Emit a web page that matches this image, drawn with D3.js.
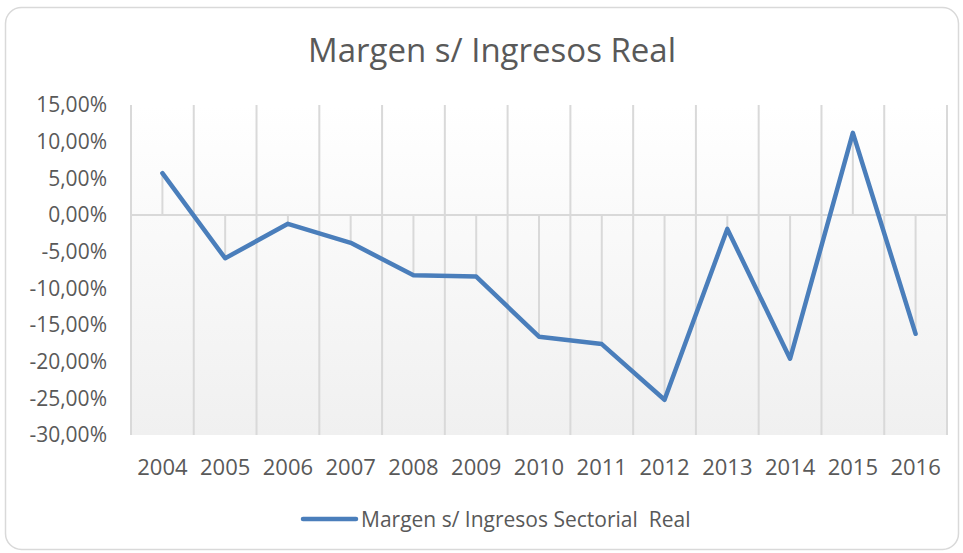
<!DOCTYPE html>
<html>
<head>
<meta charset="utf-8">
<script src="https://cdn.jsdelivr.net/npm/d3@7"></script>
<style>
  body { margin: 0; background: #fff; }
  text { font-family: "Open Sans", sans-serif; fill: #595959; }
</style>
</head>
<body>
<div id="root"></div>
<script>
const years = ['2004', '2005', '2006', '2007', '2008', '2009', '2010', '2011', '2012', '2013', '2014', '2015', '2016'];
const margenReal = [5.7, -5.9, -1.2, -3.8, -8.2, -8.4, -16.6, -17.6, -25.2, -1.9, -19.6, 11.2, -16.2];
const yTicks = [15, 10, 5, 0, -5, -10, -15, -20, -25, -30];
const seriesName = 'Margen s/ Ingresos Sectorial  Real';
const chartTitle = 'Margen s/ Ingresos Real';

const app = (function(d3) {

  const W = 963, H = 553;
  const margin = { top: 105, right: 16, bottom: 118, left: 131 };
  const width = W - margin.left - margin.right;
  const height = H - margin.top - margin.bottom;
  const grid = '#d9d9d9';

  // spanish style: comma decimals, plain hyphen
  const fmt = d3.formatLocale({ decimal: ',', thousands: '.', grouping: [3], currency: ['', '€'], minus: '-' }).format('.2f');

  const svg = d3.select('#root')
    .append('svg')
      .attr('width', W)
      .attr('height', H);

  const grad = svg.append('defs').append('linearGradient')
    .attr('id', 'plotbg')
    .attr('x1', 0).attr('y1', 0).attr('x2', 0).attr('y2', 1);
  grad.append('stop').attr('offset', '0%').attr('stop-color', '#ffffff');
  grad.append('stop').attr('offset', '100%').attr('stop-color', '#f0f0f0');

  // chart frame
  svg.append('rect')
    .attr('x', 5.5).attr('y', 7.5)
    .attr('width', 953).attr('height', 542)
    .attr('rx', 16)
    .attr('fill', '#fff')
    .attr('stroke', grid)
    .attr('stroke-width', 1.5);

  svg.append('text')
    .attr('x', 492).attr('y', 62)
    .attr('text-anchor', 'middle')
    .style('font-size', '33px')
    .text(chartTitle);

  const g = svg.append('g')
    .attr('transform', `translate(${margin.left}, ${margin.top})`);

  const xScale = d3.scaleBand()
    .domain(years)
    .range([0, width]);

  const yScale = d3.scaleLinear()
    .domain([-30, 15])
    .range([height, 0]);

  g.append('rect')
    .attr('width', width)
    .attr('height', height)
    .attr('fill', 'url(#plotbg)');

  // vertical gridlines between categories
  const bounds = years.map((d) => xScale(d)).concat([width]);
  g.selectAll('.vgrid')
    .data(bounds)
  .enter().append('line')
    .attr('class', 'vgrid')
    .attr('x1', (d) => d).attr('x2', (d) => d)
    .attr('y1', 0).attr('y2', height)
    .attr('stroke', grid)
    .attr('stroke-width', 2);

  // category axis at zero
  g.append('line')
    .attr('x1', 0).attr('x2', width)
    .attr('y1', yScale(0)).attr('y2', yScale(0))
    .attr('stroke', grid)
    .attr('stroke-width', 2);

  const cx = (i) => xScale(years[i]) + xScale.bandwidth() / 2;

  // drop lines
  g.selectAll('.drop')
    .data(margenReal)
  .enter().append('line')
    .attr('class', 'drop')
    .attr('x1', (d, i) => cx(i)).attr('x2', (d, i) => cx(i))
    .attr('y1', yScale(0)).attr('y2', (d) => yScale(d))
    .attr('stroke', grid)
    .attr('stroke-width', 2);

  const yAxis = d3.axisLeft(yScale)
    .tickValues(yTicks)
    .tickSize(0)
    .tickPadding(24)
    .tickFormat((d) => fmt(d) + '%');

  g.append('g')
    .call(yAxis)
    .call((s) => s.select('.domain').remove())
    .selectAll('text')
      .style('font-size', '21px')
      .attr('fill', '#595959');

  const xAxis = d3.axisBottom(xScale)
    .tickSize(0)
    .tickPadding(24);

  g.append('g')
    .attr('transform', `translate(0, ${height})`)
    .call(xAxis)
    .call((s) => s.select('.domain').remove())
    .selectAll('text')
      .style('font-size', '22px')
      .attr('fill', '#595959');

  const line = d3.line()
    .x((d, i) => cx(i))
    .y((d) => yScale(d));

  g.append('path')
    .datum(margenReal)
    .attr('d', line)
    .attr('fill', 'none')
    .attr('stroke', '#4a7ebb')
    .attr('stroke-width', 4.5)
    .attr('stroke-linejoin', 'round')
    .attr('stroke-linecap', 'round');

  // legend
  const leg = svg.append('g').attr('transform', 'translate(303, 519)');
  leg.append('line')
    .attr('x1', 0).attr('x2', 53)
    .attr('stroke', '#4a7ebb')
    .attr('stroke-width', 4.5)
    .attr('stroke-linecap', 'round');
  leg.append('text')
    .attr('x', 58).attr('y', 8)
    .style('font-size', '21px')
    .style('white-space', 'pre')
    .text(seriesName);

})(d3);
</script>
</body>
</html>
